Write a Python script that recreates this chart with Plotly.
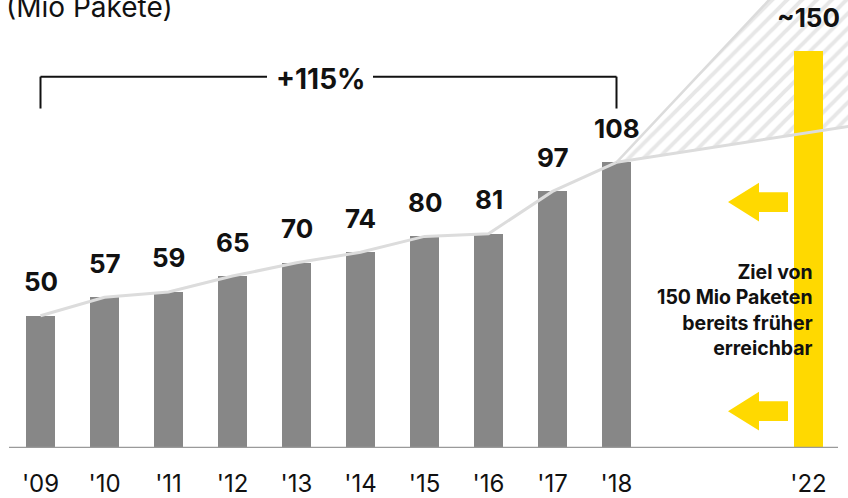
import plotly.graph_objects as go

# ---------------- data ----------------
years = ["'09", "'10", "'11", "'12", "'13", "'14", "'15", "'16", "'17", "'18"]
volumes = [50, 57, 59, 65, 70, 74, 80, 81, 97, 108]
target_year = "'22"
target_value = 150
target_label = "~150"
hist_idx = list(range(len(years)))      # slot of each year on the axis
target_idx = 12                          # '22 sits three slots after '18
proj_x = [9, 13]                         # projection corridor ('18 → beyond edge)
proj_low = [108, 123]
proj_high = [108, 211]
growth_label = "+115%"
unit_label = "(Mio Pakete)"
note_lines = ["Ziel von", "150 Mio Paketen", "bereits früher", "erreichbar"]

# ---------------- styling ----------------
GRAY = "#878787"
YELLOW = "#FFD900"
LINE = "#DCDCDC"
TXT = "#111111"
FONT = "Inter"

W, H = 848, 498
X0, DX = 40.5, 64.0          # pixel of slot 0, pixels per slot
Y0, DY = 450.0, 2.657        # pixel of value 0, pixels per unit


def xd(px):
    return (px - X0) / DX


def yd(py):
    return (Y0 - py) / DY


xr = [xd(0), xd(W)]
yr = [0, yd(0)]

fig = go.Figure()

# hatched corridor (base subplot, below the bars)
fig.add_trace(go.Scatter(
    x=proj_x + proj_x[::-1], y=proj_high + proj_low[::-1],
    fill="toself", mode="lines", line=dict(width=0, color=LINE),
    fillcolor="rgba(255,255,255,0)",
    fillpattern=dict(shape="/", fgcolor="#D0D0D0", bgcolor="rgba(255,255,255,0)",
                     size=10.5, solidity=0.38),
    hoverinfo="skip", showlegend=False,
))

# bars (overlay subplot, above the hatch)
fig.add_trace(go.Bar(
    x=hist_idx + [target_idx], y=volumes + [target_value],
    width=0.455, marker=dict(color=[GRAY] * len(volumes) + [YELLOW], line=dict(width=0)),
    xaxis="x2", yaxis="y2", showlegend=False,
))

# trend line + projection lines
fig.add_trace(go.Scatter(x=hist_idx, y=volumes, mode="lines",
                         line=dict(color=LINE, width=3), xaxis="x2", yaxis="y2",
                         showlegend=False))
fig.add_trace(go.Scatter(x=proj_x, y=proj_low, mode="lines",
                         line=dict(color=LINE, width=3), xaxis="x2", yaxis="y2",
                         showlegend=False))
fig.add_trace(go.Scatter(x=proj_x, y=proj_high, mode="lines",
                         line=dict(color=LINE, width=2.5), xaxis="x2", yaxis="y2",
                         showlegend=False))

annotations = []
# value labels
for i, v in zip(hist_idx, volumes):
    annotations.append(dict(x=i, y=v, xref="x", yref="y", text=str(v), showarrow=False,
                            yanchor="middle", yshift=34,
                            font=dict(family=FONT, size=26, color=TXT, weight=700)))
annotations.append(dict(x=target_idx, y=target_value, xref="x", yref="y", text=target_label,
                        showarrow=False, yanchor="middle", yshift=34,
                        font=dict(family=FONT, size=26, color=TXT, weight=700)))
# growth label
annotations.append(dict(x=xd(320), y=yd(79), xref="x", yref="y", text=growth_label,
                        showarrow=False, yanchor="middle",
                        font=dict(family=FONT, size=28, color=TXT, weight=700)))
# unit label
annotations.append(dict(x=4 / W, y=1, xref="paper", yref="paper", text=unit_label,
                        showarrow=False, xanchor="left", yanchor="middle", yshift=-7,
                        font=dict(family=FONT, size=28, color=TXT)))
# note
annotations.append(dict(x=xd(815), y=yd(311), xref="x", yref="y",
                        text="<br>".join(note_lines), align="right",
                        showarrow=False, xanchor="right", yanchor="middle",
                        font=dict(family=FONT, size=19.5, color=TXT, weight=700)))

shapes = []
# baseline
shapes.append(dict(type="line", xref="x", yref="y", x0=xd(9), x1=xd(838), y0=0, y1=0,
                   line=dict(color="#9A9A9A", width=2.5)))
# bracket
bk = dict(color="#111111", width=2)
shapes.append(dict(type="line", xref="x", yref="y", x0=hist_idx[0], x1=xd(267),
                   y0=yd(77), y1=yd(77), line=bk))
shapes.append(dict(type="line", xref="x", yref="y", x0=xd(373), x1=hist_idx[-1],
                   y0=yd(77), y1=yd(77), line=bk))
for i in (hist_idx[0], hist_idx[-1]):
    shapes.append(dict(type="line", xref="x", yref="y", x0=i, x1=i,
                       y0=yd(77), y1=yd(109), line=bk))


# yellow arrows
def arrow(cy):
    pts = [(728, cy), (759, cy - 19.5), (759, cy - 10), (788, cy - 10),
           (788, cy + 10), (759, cy + 10), (759, cy + 19.5)]
    return "M " + " L ".join(f"{xd(px):.4f},{yd(py):.4f}" for px, py in pts) + " Z"


for cy in (203, 413):
    shapes.append(dict(type="path", xref="x", yref="y", path=arrow(cy),
                       fillcolor=YELLOW, line=dict(width=0)))

fig.update_layout(
    width=W, height=H,
    margin=dict(l=0, r=0, t=0, b=H - 450),
    paper_bgcolor="white", plot_bgcolor="white",
    xaxis=dict(range=xr, showgrid=False, zeroline=False, showline=False,
               tickmode="array", tickvals=hist_idx + [target_idx],
               ticktext=years + [target_year], ticks="outside", ticklen=14,
               tickcolor="rgba(0,0,0,0)",
               tickfont=dict(family=FONT, size=24, color=TXT)),
    yaxis=dict(range=yr, visible=False),
    xaxis2=dict(range=xr, overlaying="x", anchor="y2", visible=False),
    yaxis2=dict(range=yr, overlaying="y", anchor="x2", visible=False),
    annotations=annotations, shapes=shapes,
    bargap=0, showlegend=False,
)

fig.write_html("out.html", config={"displayModeBar": False},
               post_script="document.body.style.margin='0';document.body.style.overflow='hidden';")
